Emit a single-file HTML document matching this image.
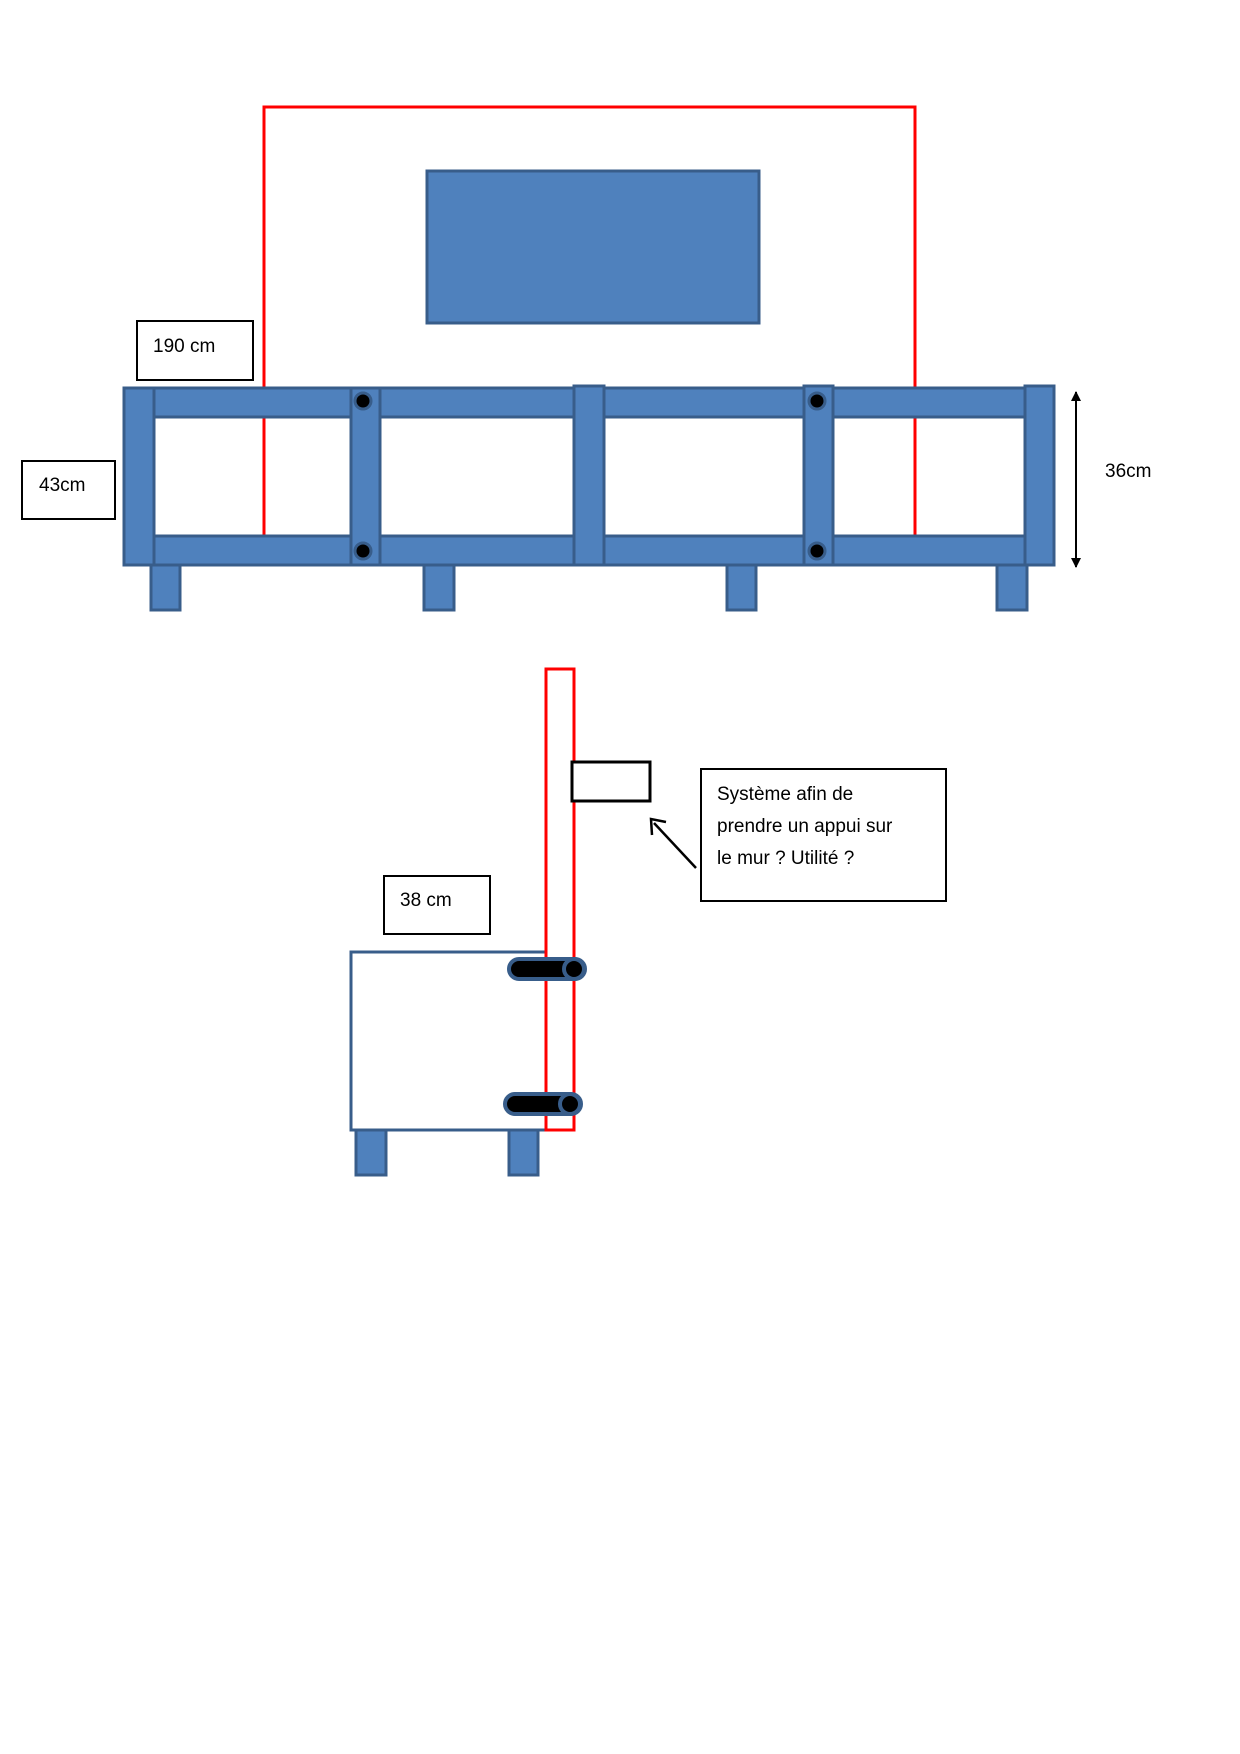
<!DOCTYPE html>
<html><head><meta charset="utf-8"><style>
body{margin:0;background:#fff;}
svg{display:block}
text{font-family:"Liberation Sans",sans-serif;font-size:19px;fill:#000}
</style></head><body>
<svg width="1240" height="1754" viewBox="0 0 1240 1754" xmlns="http://www.w3.org/2000/svg">
<defs><marker id="ah" markerUnits="userSpaceOnUse" markerWidth="10" markerHeight="12" refX="9" refY="5" orient="auto-start-reverse"><path d="M0,0 L10,5 L0,10 z" fill="#000"/></marker></defs>
<polyline points="264,565 264,107 915,107 915,565" fill="none" stroke="#ff0000" stroke-width="3"/>
<rect x="427" y="171" width="332" height="152" fill="#4f81bd" stroke="#385d8a" stroke-width="3"/>
<rect x="137" y="321" width="116" height="59" fill="#fff" stroke="#000" stroke-width="2"/>
<text x="153" y="352">190 cm</text>
<g fill="#4f81bd" stroke="#385d8a" stroke-width="3">
<rect x="124" y="388" width="930" height="29"/>
<rect x="124" y="536" width="930" height="29"/>
<rect x="151" y="565" width="29" height="45"/>
<rect x="424" y="565" width="30" height="45"/>
<rect x="727" y="565" width="29" height="45"/>
<rect x="997" y="565" width="30" height="45"/>
<rect x="124" y="388" width="30" height="177"/>
<rect x="351" y="388" width="29" height="177"/>
<rect x="574" y="386" width="30" height="179"/>
<rect x="804" y="386" width="29" height="179"/>
<rect x="1025" y="386" width="29" height="179"/>
</g>
<g fill="#000" stroke="#385d8a" stroke-width="3">
<circle cx="363" cy="401" r="8"/><circle cx="363" cy="551" r="8"/>
<circle cx="817" cy="401" r="8"/><circle cx="817" cy="551" r="8"/>
</g>
<rect x="22" y="461" width="93" height="58" fill="#fff" stroke="#000" stroke-width="2"/>
<text x="39" y="491">43cm</text>
<line x1="1076" y1="392" x2="1076" y2="567" stroke="#000" stroke-width="2" marker-start="url(#ah)" marker-end="url(#ah)"/>
<text x="1105" y="477">36cm</text>

<rect x="351" y="952" width="195" height="178" fill="#fff" stroke="#385d8a" stroke-width="3"/>
<rect x="546" y="669" width="28" height="461" fill="none" stroke="#ff0000" stroke-width="3"/>
<rect x="572" y="762" width="78" height="39" fill="#fff" stroke="#000" stroke-width="3"/>
<rect x="701" y="769" width="245" height="132" fill="#fff" stroke="#000" stroke-width="2"/>
<text x="717" y="800">Système afin de</text>
<text x="717" y="832">prendre un appui sur</text>
<text x="717" y="864">le mur ? Utilité ?</text>
<line x1="696" y1="868" x2="654" y2="823" stroke="#000" stroke-width="2.5"/>
<polyline points="652,835 651,819 666,822" fill="none" stroke="#000" stroke-width="2.5"/>
<rect x="384" y="876" width="106" height="58" fill="#fff" stroke="#000" stroke-width="2"/>
<text x="400" y="906">38 cm</text>
<g fill="#000" stroke="#385d8a" stroke-width="4">
<rect x="509" y="959" width="76" height="20" rx="10"/>
<circle cx="574" cy="969" r="10"/>
<rect x="505" y="1094" width="76" height="20" rx="10"/>
<circle cx="570" cy="1104" r="10"/>
</g>
<g fill="#4f81bd" stroke="#385d8a" stroke-width="3">
<rect x="356" y="1130" width="30" height="45"/>
<rect x="509" y="1130" width="29" height="45"/>
</g>
</svg>
</body></html>
